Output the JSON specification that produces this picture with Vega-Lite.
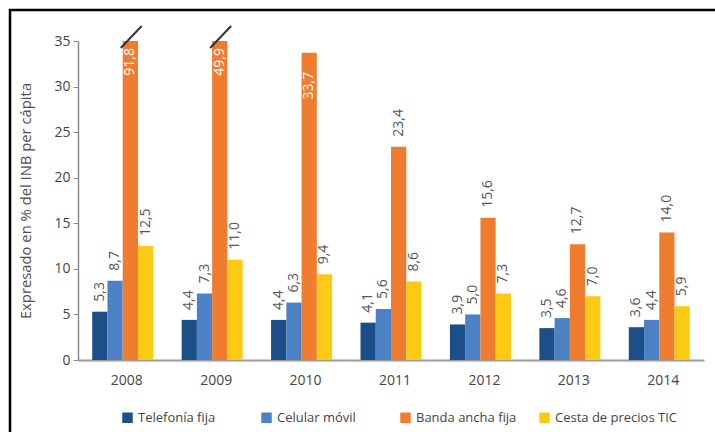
{
  "$schema": "https://vega.github.io/schema/vega-lite/v6.json",
  "width": 725,
  "height": 442,
  "autosize": "none",
  "padding": {"left": 10, "top": 10, "right": -14, "bottom": -20},
  "background": "white",
  "config": {
    "view": {"stroke": "#000000", "strokeWidth": 2.5},
    "locale": {"number": {"decimal": ",", "thousands": ".", "grouping": [3], "currency": ["", " €"]}},
    "font": "Open Sans"
  },
  "data": {
    "values": [
      {"year": "2008", "series": "Telefonía fija", "value": 5.3},
      {"year": "2008", "series": "Celular móvil", "value": 8.7},
      {"year": "2008", "series": "Banda ancha fija", "value": 91.8},
      {"year": "2008", "series": "Cesta de precios TIC", "value": 12.5},
      {"year": "2009", "series": "Telefonía fija", "value": 4.4},
      {"year": "2009", "series": "Celular móvil", "value": 7.3},
      {"year": "2009", "series": "Banda ancha fija", "value": 49.9},
      {"year": "2009", "series": "Cesta de precios TIC", "value": 11.0},
      {"year": "2010", "series": "Telefonía fija", "value": 4.4},
      {"year": "2010", "series": "Celular móvil", "value": 6.3},
      {"year": "2010", "series": "Banda ancha fija", "value": 33.7},
      {"year": "2010", "series": "Cesta de precios TIC", "value": 9.4},
      {"year": "2011", "series": "Telefonía fija", "value": 4.1},
      {"year": "2011", "series": "Celular móvil", "value": 5.6},
      {"year": "2011", "series": "Banda ancha fija", "value": 23.4},
      {"year": "2011", "series": "Cesta de precios TIC", "value": 8.6},
      {"year": "2012", "series": "Telefonía fija", "value": 3.9},
      {"year": "2012", "series": "Celular móvil", "value": 5.0},
      {"year": "2012", "series": "Banda ancha fija", "value": 15.6},
      {"year": "2012", "series": "Cesta de precios TIC", "value": 7.3},
      {"year": "2013", "series": "Telefonía fija", "value": 3.5},
      {"year": "2013", "series": "Celular móvil", "value": 4.6},
      {"year": "2013", "series": "Banda ancha fija", "value": 12.7},
      {"year": "2013", "series": "Cesta de precios TIC", "value": 7.0},
      {"year": "2014", "series": "Telefonía fija", "value": 3.6},
      {"year": "2014", "series": "Celular móvil", "value": 4.4},
      {"year": "2014", "series": "Banda ancha fija", "value": 14.0},
      {"year": "2014", "series": "Cesta de precios TIC", "value": 5.9}
    ]
  },
  "encoding": {
    "x": {
      "field": "year",
      "type": "ordinal",
      "scale": {"range": [68, 694], "paddingInner": 0.318, "paddingOuter": 0.159},
      "axis": {
        "title": null,
        "offset": -92,
        "labelAngle": 0,
        "ticks": false,
        "labelFontSize": 14,
        "labelColor": "#444444",
        "labelPadding": 13,
        "labelOffset": 4,
        "domainColor": "#9a9a9a",
        "domainWidth": 2
      }
    },
    "y": {
      "field": "value",
      "type": "quantitative",
      "scale": {"domain": [0, 35], "range": [350, 31], "clamp": true, "nice": false, "zero": true},
      "axis": {
        "title": "Expresado en % del INB per cápita",
        "offset": -68,
        "values": [0, 5, 10, 15, 20, 25, 30, 35],
        "grid": false,
        "labelFontSize": 14,
        "labelColor": "#444444",
        "labelPadding": 3,
        "tickSize": 5,
        "tickColor": "#8a8a8a",
        "domainColor": "#8a8a8a",
        "domainWidth": 1.5,
        "titleFontSize": 14.8,
        "titleFontWeight": "normal",
        "titleColor": "#505050",
        "titlePadding": 20
      }
    }
  },
  "layer": [
    {
      "mark": {"type": "bar"},
      "encoding": {
        "xOffset": {"field": "series", "type": "nominal", "sort": ["Telefonía fija", "Celular móvil", "Banda ancha fija", "Cesta de precios TIC"], "scale": {"paddingInner": 0, "paddingOuter": 0}},
        "color": {
          "field": "series",
          "type": "nominal",
          "sort": ["Telefonía fija", "Celular móvil", "Banda ancha fija", "Cesta de precios TIC"],
          "scale": {"domain": ["Telefonía fija", "Celular móvil", "Banda ancha fija", "Cesta de precios TIC"], "range": ["#1c4f88", "#4c81c6", "#ef7c2f", "#fcca14"]},
          "legend": {
            "orient": "none",
            "legendX": 111,
            "legendY": 401,
            "direction": "horizontal",
            "title": null,
            "symbolType": "square",
            "symbolSize": 110,
            "symbolStrokeWidth": 0,
            "labelFontSize": 13,
            "labelColor": "#444444",
            "labelOffset": 4,
            "columnPadding": 0,
            "gridAlign": "all",
            "padding": 0
          }
        }
      }
    },
    {
      "transform": [{"filter": "!(datum.series == 'Banda ancha fija' && datum.value > 30)"}],
      "mark": {"type": "text", "angle": 270, "align": "left", "baseline": "middle", "dx": 10, "fontSize": 14, "color": "#555555"},
      "encoding": {
        "xOffset": {"field": "series", "type": "nominal", "sort": ["Telefonía fija", "Celular móvil", "Banda ancha fija", "Cesta de precios TIC"], "scale": {"paddingInner": 0, "paddingOuter": 0}},
        "text": {"field": "value", "type": "quantitative", "format": ".1f"}
      }
    },
    {
      "transform": [{"filter": "datum.series == 'Banda ancha fija' && datum.value > 35"}],
      "mark": {"type": "text", "angle": 270, "align": "right", "baseline": "middle", "dx": -7, "fontSize": 14, "color": "#ffffff"},
      "encoding": {
        "xOffset": {"field": "series", "type": "nominal", "sort": ["Telefonía fija", "Celular móvil", "Banda ancha fija", "Cesta de precios TIC"], "scale": {"paddingInner": 0, "paddingOuter": 0}},
        "text": {"field": "value", "type": "quantitative", "format": ".1f"}
      }
    },
    {
      "transform": [{"filter": "datum.series == 'Banda ancha fija' && datum.value > 30 && datum.value <= 35"}],
      "mark": {"type": "text", "angle": 270, "align": "right", "baseline": "middle", "dx": -19, "fontSize": 14, "color": "#ffffff"},
      "encoding": {
        "xOffset": {"field": "series", "type": "nominal", "sort": ["Telefonía fija", "Celular móvil", "Banda ancha fija", "Cesta de precios TIC"], "scale": {"paddingInner": 0, "paddingOuter": 0}},
        "text": {"field": "value", "type": "quantitative", "format": ".1f"}
      }
    },
    {
      "transform": [{"filter": "datum.series == 'Banda ancha fija' && datum.value > 35"}],
      "mark": {"type": "rule", "color": "#333333", "strokeWidth": 2, "xOffset": -2, "x2Offset": 19, "yOffset": 7, "y2Offset": -15},
      "encoding": {
        "x2": {"field": "year"},
        "y2": {"field": "value"}
      }
    }
  ]
}
